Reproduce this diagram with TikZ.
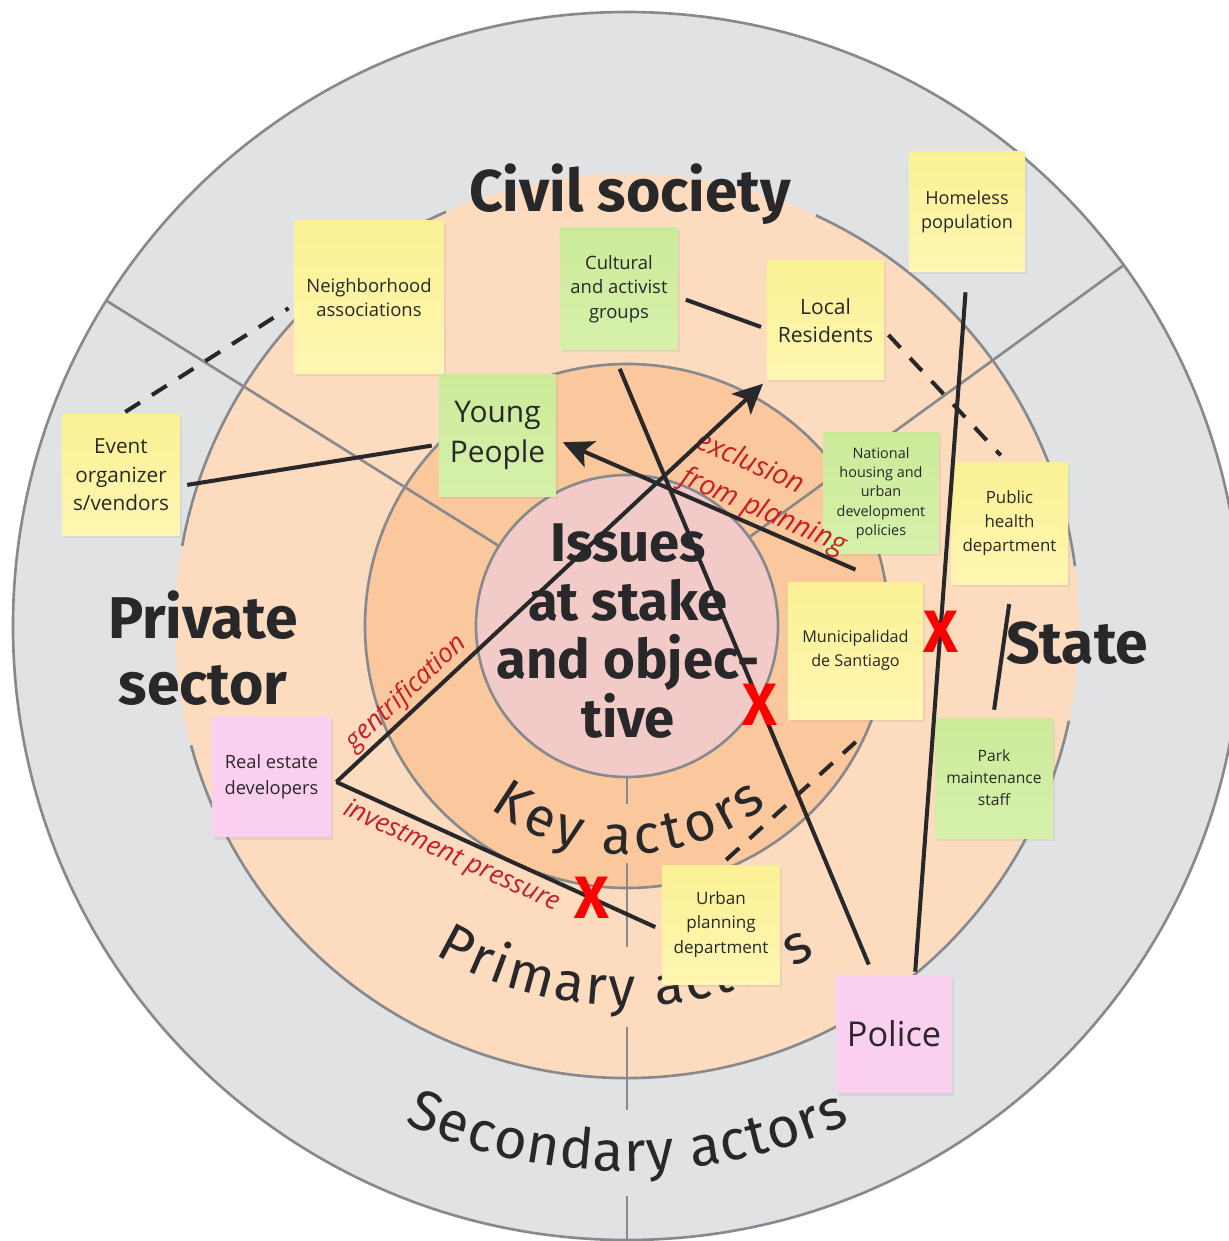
\documentclass[tikz,border=0pt]{standalone}
\usepackage{fontspec}
\setmainfont{Open Sans}
\newfontfamily\dinfont{Fira Sans}
\usetikzlibrary{arrows.meta,positioning,calc,decorations.text,shadows}

\definecolor{ringgray}{RGB}{225,226,228}
\definecolor{ringpeach}{RGB}{253,219,191}
\definecolor{ringorange}{RGB}{250,200,156}
\definecolor{ringpink}{RGB}{242,203,201}
\definecolor{rimline}{RGB}{135,137,140}
\definecolor{yellowtop}{RGB}{251,241,148}
\definecolor{yellowbot}{RGB}{254,246,178}
\definecolor{greentop}{RGB}{204,235,154}
\definecolor{greenbot}{RGB}{214,240,170}
\definecolor{notepink}{RGB}{251,207,239}
\definecolor{inkdark}{RGB}{40,40,42}
\definecolor{labelred}{RGB}{200,30,38}

\newcommand\arcfont{\dinfont\fontsize{31}{31}\selectfont\color{inkdark}}
\newcommand\outerarcfont{\dinfont\fontsize{32}{32}\selectfont\color{inkdark}}

\begin{document}
\begin{tikzpicture}[
    note/.style={rectangle, minimum width=2.34cm, minimum height=2.4cm, inner sep=0pt, align=center, text=inkdark,
        drop shadow={shadow xshift=0.04cm, shadow yshift=-0.05cm, opacity=0.12}},
    yellownote/.style={note, top color=yellowtop, bottom color=yellowbot},
    greennote/.style={note, top color=greentop, bottom color=greenbot},
    pinknote/.style={note, fill=notepink},
    rim/.style={draw=rimline, line width=1.5pt},
    link/.style={draw=inkdark, line width=2.3pt},
    arrow/.style={link, -{Stealth[length=17pt, width=16pt, inset=4pt]}},
    weak/.style={link, dash pattern=on 10pt off 8pt},
    cut/.style={text=red, font=\dinfont\bfseries\fontsize{34}{34}\selectfont, inner sep=0pt},
    tag/.style={text=labelred, font=\itshape\fontsize{15}{21}\selectfont, sloped, align=left},
    sector/.style={text=inkdark, font=\dinfont\bfseries\fontsize{33.5}{37.5}\selectfont, align=center}
    ]

    \fill[white] (-12.54,-12.30) rectangle (12.02,12.52);
    \useasboundingbox (-12.54,-12.30) rectangle (12.02,12.52);

    % Rings: secondary, primary, key actors
    \filldraw[rim, fill=ringgray] (0,0) circle (12.28);
    \fill[ringpeach] (0,0) circle (9.04);
    \draw[rim] (7.6:9.04) arc[start angle=7.6, end angle=65.3, radius=9.04];
    \draw[rim] (113.6:9.04) arc[start angle=113.6, end angle=169.8, radius=9.04];
    \draw[rim] (195.3:9.04) arc[start angle=195.3, end angle=347.9, radius=9.04];
    \filldraw[rim, fill=ringorange] (0,0) circle (5.24);

    % Sector dividers
    \draw[rim] (148:3.02) -- (148:12.28);
    \draw[rim] (36:3.02) -- (36:12.28);
    \foreach \a/\b in {3.02/3.56, 4.74/6.42, 8.02/9.68, 11.4/12.28}
        \draw[rim] (0,-\a) -- (0,-\b);

    % Centre
    \filldraw[rim, fill=ringpink] (0,0) circle (3.02);

    % Ring labels
    \path[decorate, decoration={text along path, text align={fit to path}, text={|\arcfont|Key actors}}]
        (233:4.56) arc[start angle=233, end angle=308, radius=4.56];
    \path[decorate, decoration={text along path, text align={fit to path}, text={|\arcfont|Primary actors}}]
        (239.6:7.6) arc[start angle=239.6, end angle=299.8, radius=7.6];
    \path[decorate, decoration={text along path, text align={fit to path}, text={|\outerarcfont|Secondary actors}}]
        (245.9:10.9) arc[start angle=245.9, end angle=294.2, radius=10.9];

    % Sector titles
    \node[sector, anchor=base] (civil) at (0.06,8.28) {Civil society};
    \node[sector] (private) at (-8.48,-0.44) {Private\\sector};
    \node[sector, anchor=base west] (state) at (7.46,-0.74) {State};
    \node[sector, font=\dinfont\bfseries\fontsize{31}{33.4}\selectfont] (issues) at (0.02,-0.1)
        {Issues\\at stake\\and objec-\\tive};

    % Sticky notes
    \node[yellownote, minimum width=3cm, minimum height=3.06cm, font=\fontsize{10.5}{14}\selectfont] (neigh) at (-5.16,6.57) {Neighborhood\\associations};
    \node[greennote, minimum width=2.36cm, minimum height=2.44cm, font=\fontsize{10.5}{14}\selectfont] (cult) at (-0.16,6.74) {Cultural\\and activist\\groups};
    \node[yellownote, minimum height=2.38cm, font=\fontsize{12}{16}\selectfont] (local) at (3.97,6.11) {Local\\Residents};
    \node[yellownote, minimum width=2.32cm, font=\fontsize{10.3}{13.7}\selectfont] (homeless) at (6.80,8.28) {Homeless\\population};
    \node[greennote, minimum height=2.42cm, font=\fontsize{17}{23}\selectfont] (young) at (-2.59,3.81) {Young\\People};
    \node[yellownote, minimum width=2.36cm, font=\fontsize{11.8}{16.2}\selectfont] (event) at (-10.12,3.02) {Event\\organizer\\s/vendors};
    \node[greennote, minimum width=2.32cm, font=\fontsize{8.2}{11}\selectfont] (natl) at (5.08,2.66) {National\\housing and\\urban\\development\\policies};
    \node[yellownote, minimum height=2.42cm, font=\fontsize{9.6}{13.7}\selectfont] (health) at (7.65,2.05) {Public\\health\\department};
    \node[yellownote, minimum width=2.68cm, minimum height=2.74cm, font=\fontsize{9.2}{13.7}\selectfont] (muni) at (4.57,-0.49) {Municipalidad\\de Santiago};
    \node[greennote, minimum width=2.36cm, font=\fontsize{8.9}{12.5}\selectfont] (park) at (7.34,-3.04) {Park\\maintenance\\staff};
    \node[pinknote, minimum width=2.38cm, minimum height=2.42cm, font=\fontsize{10.4}{14.8}\selectfont] (realest) at (-7.11,-3.01) {Real estate\\developers};
    \node[yellownote, minimum width=2.36cm, minimum height=2.38cm, font=\fontsize{9.7}{13.7}\selectfont] (urban) at (1.88,-5.97) {Urban\\planning\\department};
    \node[pinknote, minimum width=2.32cm, minimum height=2.36cm, font=\fontsize{19.5}{24}\selectfont] (police) at (5.34,-8.16) {Police};

    % Relations
    \coordinate (fork) at ([xshift=0.1cm, yshift=-0.11cm]realest.east);
    \draw[link, shorten <=0.14cm, shorten >=0.14cm] ([yshift=-0.22cm]event.east) -- ([yshift=-0.18cm]young.west);
    \draw[weak, shorten <=0.1cm, shorten >=0.12cm] (event.north) -- ([yshift=-0.15cm]neigh.west);
    \draw[link, shorten <=0.16cm, shorten >=0.12cm] ([yshift=-0.16cm]cult.east) -- ([yshift=-0.17cm]local.west);
    \draw[weak, shorten <=0.12cm, shorten >=0.2cm] ([yshift=-0.2cm]local.east) -- ([xshift=-0.04cm]health.north);
    \draw[link, shorten <=0.16cm, shorten >=0.4cm] ([xshift=-0.02cm]park.north) -- ([xshift=0.05cm]health.south);
    \draw[weak, shorten <=0.14cm, shorten >=0.67cm] (urban.north) -- ([xshift=0.5cm]muni.south);
    \draw[arrow, shorten >=0.14cm] ([yshift=0.24cm]muni.north) --
        node[tag, above, pos=0.33, inner sep=0pt, font=\itshape\fontsize{16}{22}\selectfont] {exclusion\\from planning} ([yshift=-0.08cm]young.east);
    \draw[arrow, shorten >=0.1cm] (fork) --
        node[tag, above, pos=0.19, inner sep=1pt] {gentrification} (local.south west);
    \draw[link, shorten >=0.14cm] (fork) --
        node[tag, below, pos=0.38, inner sep=3pt] {investment pressure}
        node[cut, pos=0.785] {X} ([yshift=-0.11cm]urban.west);
    \draw[link, shorten <=0.4cm, shorten >=0.22cm] ([xshift=-0.14cm]cult.south) --
        node[cut, pos=0.568] {X} ([xshift=-0.42cm]police.north);
    \draw[link, shorten <=0.4cm, shorten >=0.06cm] (homeless.south) --
        node[cut, pos=0.512] {X} ([xshift=0.42cm]police.north);

\end{tikzpicture}
\end{document}
